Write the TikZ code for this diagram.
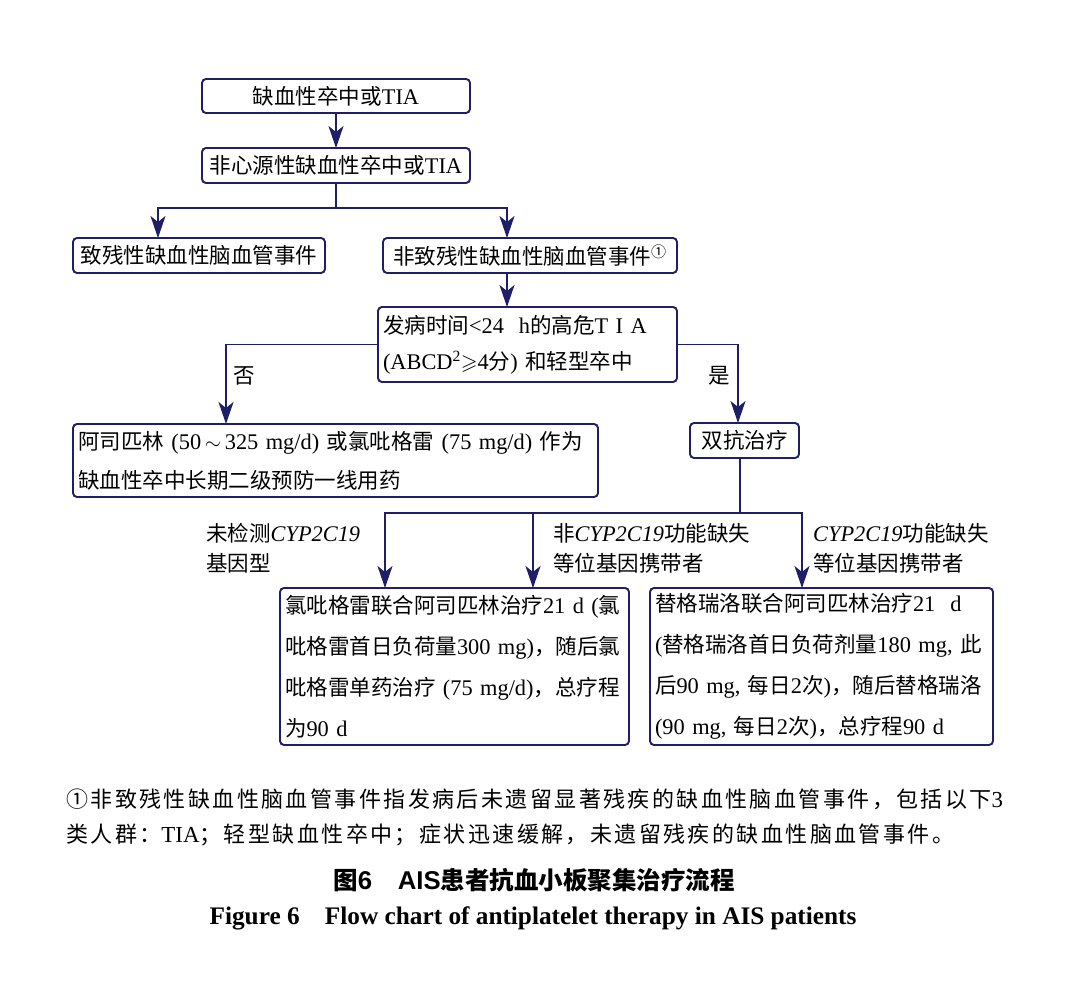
\documentclass[tikz,border=0pt]{standalone}
\usepackage{amssymb}
\usepackage{fontspec}
\setmainfont{Liberation Serif}[Scale=1.04]
\setsansfont{Liberation Sans}[Scale=1.05]
\newfontfamily\zhfont{Noto Sans CJK SC}
\newfontfamily\zhwide{Noto Sans CJK SC}[LetterSpace=11]
\usetikzlibrary{arrows.meta}
\definecolor{navy}{RGB}{30,30,105}
% switch between Latin and CJK fonts automatically
\XeTeXinterchartokenstate=1
\newXeTeXintercharclass\zhclass
\newcount\zhc
\newcommand\setzhrange[2]{\zhc=#1\relax
  \loop\XeTeXcharclass\zhc=\zhclass\ifnum\zhc<#2\advance\zhc by 1\repeat}
\setzhrange{"2460}{"24FF}
\setzhrange{"3000}{"303F}
\setzhrange{"4E00}{"9FFF}
\setzhrange{"FF00}{"FFEF}
\newcommand\zhsel{\zhfont}
\newcommand\latsel{\rmfamily}
\XeTeXinterchartoks 0 \zhclass = {\zhsel}
\XeTeXinterchartoks 4095 \zhclass = {\zhsel}
\XeTeXinterchartoks \zhclass 0 = {\latsel}
\XeTeXinterchartoks 4095 0 = {\latsel}
\tikzset{%
  box/.style={draw=navy,line width=1.9pt,rounded corners=4pt,inner xsep=5pt,inner ysep=0pt,outer sep=0pt,font=\fontsize{21.5}{36}\selectfont},
  tag/.style={inner sep=0pt,align=left,font=\fontsize{21.5}{30}\selectfont},
  link/.style={draw=navy,line width=1.9pt},
  arr/.style={link,-{Stealth[length=22pt,width=15pt,inset=6pt]}}
}
\begin{document}
\begin{tikzpicture}[x=1pt,y=-1pt]
  \fill[white] (0,0) rectangle (1080,995);
  \useasboundingbox (0,0) rectangle (1080,995);
  \path
    (336,96) node (box_1)[box,minimum width=268pt,minimum height=34pt]{缺血性卒中或TIA}
    (336,165.5) node (box_2)[box,minimum width=268pt,minimum height=35pt]{非心源性缺血性卒中或TIA}
    (199,255.5) node (box_3)[box,minimum width=252pt,minimum height=35pt]{致残性缺血性脑血管事件}
    (530,255.5) node (box_4)[box,minimum width=294pt,minimum height=35pt]{非致残性缺血性脑血管事件\textsuperscript{①}}
    (527.5,344.5) node (box_5)[box,text width=289pt,align=left,minimum height=75pt]{发病时间<24\ \ h的高危T\ I\ A\\(ABCD\textsuperscript{2}$\geqslant$4分) 和轻型卒中}
    (335.5,460.5) node (box_6)[box,text width=515pt,align=left,minimum height=73pt,font=\fontsize{21.5}{39}\selectfont]{阿司匹林 (50\,$\sim$\,325 mg/d) 或氯吡格雷 (75 mg/d) 作为\\缺血性卒中长期二级预防一线用药}
    (744.5,440.5) node (box_7)[box,minimum width=109pt,minimum height=35pt]{双抗治疗}
    (454.5,666.5) node (box_8)[box,text width=339pt,align=left,minimum height=157pt,font=\fontsize{21.5}{41}\selectfont]{氯吡格雷联合阿司匹林治疗21 d (氯\\吡格雷首日负荷量300 mg)，随后氯\\吡格雷单药治疗 (75 mg/d)，总疗程\\为90 d}
    (821.5,666.5) node (box_9)[box,text width=333pt,align=left,minimum height=157pt,font=\fontsize{21.5}{41}\selectfont]{替格瑞洛联合阿司匹林治疗21\ \ d\\(替格瑞洛首日负荷剂量180 mg, 此\\后90 mg, 每日2次)，随后替格瑞洛\\(90 mg, 每日2次)，总疗程90 d};
  \path
    (206,548) node (lab_1)[tag,anchor=west]{未检测\textit{CYP2C19}\\基因型}
    (553,548) node (lab_2)[tag,anchor=west]{非\textit{CYP2C19}功能缺失\\等位基因携带者}
    (813,548) node (lab_3)[tag,anchor=west]{\textit{CYP2C19}功能缺失\\等位基因携带者};
  \draw[arr] (box_1) -- (box_2);
  \draw[link] (box_2.south) -- ++(0,25) coordinate (j_1);
  \draw[arr] (j_1) -| ([xshift=85pt]box_3.north west);
  \draw[arr] (j_1) -| ([xshift=124pt]box_4.north west);
  \draw[arr] ([xshift=124pt]box_4.south west) -- ([xshift=129pt]box_5.north west);
  \draw[arr] (box_5.west) -| ([xshift=153pt]box_6.north west) node (no)[tag,pos=0.7,right=7pt]{否};
  \draw[arr] (box_5.east) -| ([xshift=48pt]box_7.north west) node (yes)[tag,pos=0.7,left=7pt]{是};
  \draw[link] ([xshift=50pt]box_7.south west) -- ++(0,55) coordinate (j_2);
  \draw[arr] (j_2) -| ([xshift=105pt]box_8.north west);
  \draw[arr] (j_2) -| ([xshift=253pt]box_8.north west);
  \draw[arr] (j_2) -| ([xshift=152pt]box_9.north west);
  % footnote and caption
  \path
    (66,817) node (note)[anchor=west,align=left,inner sep=0pt,font={\fontsize{22}{35}\selectfont\renewcommand\zhsel{\zhwide}}]{①非致残性缺血性脑血管事件指发病后未遗留显著残疾的缺血性脑血管事件，包括以下3\\类人群：TIA；轻型缺血性卒中；症状迅速缓解，未遗留残疾的缺血性脑血管事件。}
    (534,880) node (cap_zh)[inner sep=0pt,font={\fontsize{24.5}{28}\selectfont\bfseries\renewcommand\latsel{\sffamily}}]{图6\hspace{1em}AIS患者抗血小板聚集治疗流程}
    (533,918) node (cap_en)[inner sep=0pt,font=\fontsize{24.3}{28}\selectfont\bfseries]{Figure 6\hspace{1em}Flow chart of antiplatelet therapy in AIS patients};
\end{tikzpicture}
\end{document}
